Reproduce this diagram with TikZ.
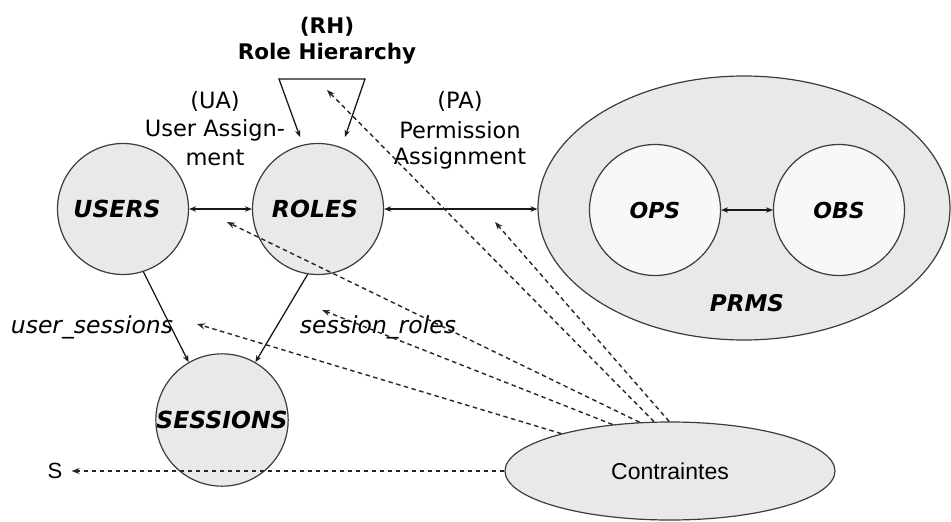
\documentclass[tikz,border=0pt]{standalone}
\usepackage{fontspec}
\setmainfont{DejaVu Sans}
\newfontfamily\plainsans{Liberation Sans}
\usetikzlibrary{arrows.meta,shapes.geometric}
\definecolor{setfill}{HTML}{E9E9E9}
\definecolor{subfill}{HTML}{F8F8F8}
\definecolor{edge}{HTML}{3C3C3C}
\begin{document}
\begin{tikzpicture}[x=1pt,y=-1pt,
  setnode/.style={circle,draw=edge,line width=1.2pt,fill=setfill,minimum size=131pt,inner sep=0pt,
    font=\fontsize{23.5}{26}\selectfont\bfseries\itshape},
  subnode/.style={setnode,fill=subfill,font=\fontsize{22}{26}\selectfont\bfseries\itshape},
  rel/.style={line width=1.3pt,draw=black!90,-{Stealth[length=7pt,width=5.5pt]}},
  birel/.style={rel,{Stealth[length=7pt,width=5.5pt]}-{Stealth[length=7pt,width=5.5pt]}},
  constraint/.style={line width=1.4pt,draw=black!85,dash pattern=on 4.5pt off 3.5pt,-{Stealth[length=8pt,width=6pt]}},
  lbl/.style={font=\fontsize{22.5}{26}\selectfont,inner sep=0pt},
  rhlbl/.style={font=\fontsize{21.5}{24}\selectfont\bfseries,inner sep=0pt},
  setlbl/.style={font=\fontsize{23.5}{26}\selectfont\itshape,inner sep=0pt}]
\useasboundingbox (0,0) rectangle (951,522);

% permission set with its two parts
\node[ellipse,draw=edge,line width=1.2pt,fill=setfill,minimum width=412pt,minimum height=264pt,inner sep=0pt]
  (prms) at (744,208) {};
\node[subnode] (ops) at (655,210) {OPS};
\node[subnode] (obs) at (839,210) {OBS};
\node[font=\fontsize{23}{26}\selectfont\bfseries\itshape] (prmslbl) at (747,303) {PRMS};

% main sets
\node[setnode] (users) at (123,209) {\hspace*{-12pt}USERS};
\node[setnode] (roles) at (318,209) {\hspace*{-6pt}ROLES};
\node[setnode] (sessions) at (222,420) {SESSIONS};

% constraints
\node[ellipse,draw=edge,line width=1.2pt,fill=setfill,minimum width=330pt,minimum height=98pt,inner sep=0pt,
  font=\plainsans\fontsize{23}{26}\selectfont] (con) at (670,471) {Contraintes};
\node[font=\plainsans\fontsize{22}{26}\selectfont,inner sep=0pt] (s) at (55,471) {S};

% relation labels
\node[rhlbl] (rh1) at (327,27) {(RH)};
\node[rhlbl] (rh2) at (327,54) {Role Hierarchy};
\node[lbl] (ua1) at (215,101) {(UA)};
\node[lbl] (ua2) at (215,130) {User Assign-};
\node[lbl] (ua3) at (215,158) {ment};
\node[lbl] (pa1) at (460,101) {(PA)};
\node[lbl] (pa2) at (460,130) {Permission};
\node[lbl] (pa3) at (460,158) {Assignment};
\node[setlbl] (us) at (92,327) {user\_sessions};
\node[setlbl] (sr) at (378,327) {session\_roles};

% assignments
\draw[birel] (users) -- (roles);
\draw[birel] (roles.east) -- (roles.east -| prms.west);
\draw[birel] (ops) -- (obs);
\draw[rel] (users.288) -- (sessions.120);
\draw[rel] (roles.261) -- (sessions.60);

% role hierarchy loop
\coordinate (rhA) at (300,137);
\coordinate (rhL) at (279,79);
\coordinate (rhR) at (365,79);
\coordinate (rhB) at (345,137);
\draw[birel] (rhA) -- (rhL) -- (rhR) -- (rhB);

% constraint targets
\coordinate (tRH) at (327,90);
\coordinate (tPA) at (495,222);
\coordinate (tUA) at (227,222);
\coordinate (tSR) at (322,310);
\coordinate (tUS) at (197,324);
\draw[constraint] (con.108) -- (tRH);
\draw[constraint] (con.91) -- (tPA);
\draw[constraint] (con.122) -- (tUA);
\draw[constraint] (con.141) -- (tSR);
\draw[constraint] (con.161) -- (tUS);
\draw[constraint] (con.west) -- ([xshift=9pt]s.east);
\end{tikzpicture}
\end{document}
